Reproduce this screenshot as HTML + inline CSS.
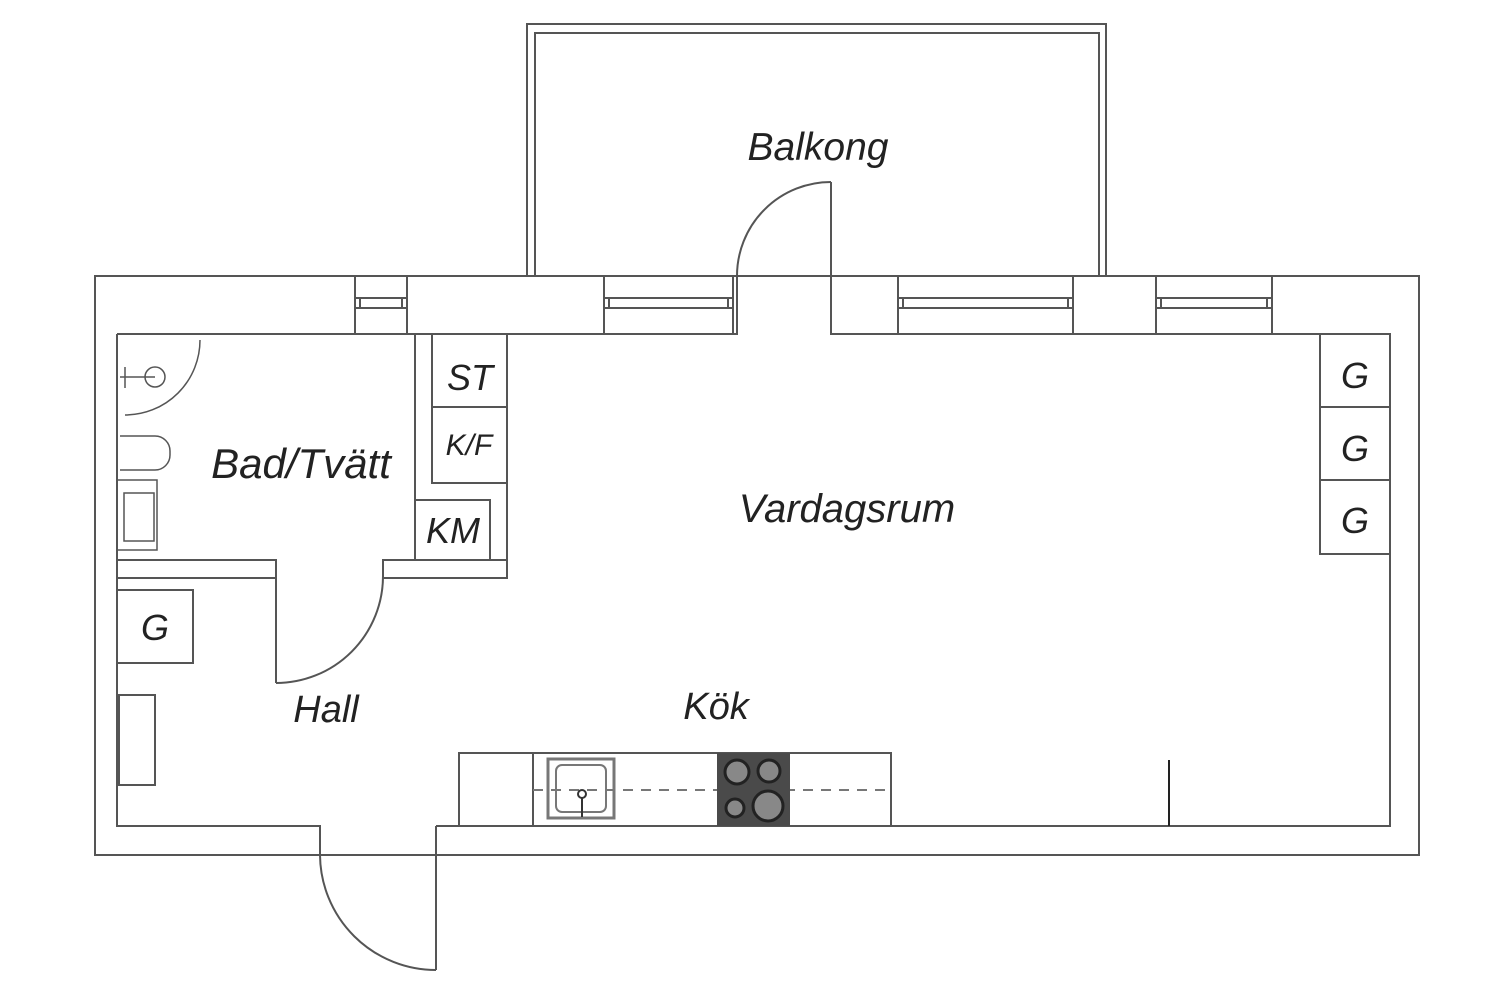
<!DOCTYPE html>
<html><head><meta charset="utf-8"><style>
html,body{margin:0;padding:0;background:#fff;}
svg{display:block}
text{font-family:"Liberation Sans",sans-serif;font-style:italic;fill:#222;}
</style></head><body>
<svg width="1500" height="1008" viewBox="0 0 1500 1008" xmlns="http://www.w3.org/2000/svg">
<g fill="none" stroke="#555" stroke-width="2">
<path d="M527 276 V24 H1106 V276"/>
<path d="M535 276 V33 H1099 V276"/>
<path d="M95 276 H1419 V855 H95 Z"/>
<path d="M117 334 H737 V276"/>
<path d="M831 276 V334 H1390 V826 H436"/>
<path d="M117 334 V826 H320 V855"/>
<path d="M436 826 V970"/>
<path d="M831 276 V182"/>
<path d="M831 182 A94 94 0 0 0 737 276"/>
<path d="M320 855 A116 116 0 0 0 436 970"/>
<g>
<path d="M355 276 V334 M407 276 V334 M355 298 H407 M355 308 H407 M360 298 V308 M402 298 V308"/>
<path d="M604 276 V334 M733 276 V334 M604 298 H733 M604 308 H733 M609 298 V308 M728 298 V308"/>
<path d="M898 276 V334 M1073 276 V334 M898 298 H1073 M898 308 H1073 M903 298 V308 M1068 298 V308"/>
<path d="M1156 276 V334 M1272 276 V334 M1156 298 H1272 M1156 308 H1272 M1161 298 V308 M1267 298 V308"/>
</g>
<path d="M117 560 H276 V683"/>
<path d="M117 578 H276"/>
<path d="M276 683 A107 107 0 0 0 383 576"/>
<path d="M383 578 V560 H507 V334"/>
<path d="M383 578 H507 V560"/>
<path d="M415 334 V560"/>
<path d="M432 334 V483 H507"/>
<path d="M432 407 H507"/>
<path d="M415 500 H490 V560"/>
<path d="M200 340 A75 75 0 0 1 125 415" stroke-width="1.5"/>
<circle cx="155" cy="377" r="10" stroke-width="1.5"/>
<path d="M120 377 H155 M125 367 V388" stroke-width="1.5"/>
<path d="M120 436 H155 A15 15 0 0 1 170 451 V455 A15 15 0 0 1 155 470 H120" stroke-width="1.5"/>
<rect x="117" y="480" width="40" height="70" stroke-width="1.5"/>
<rect x="124" y="493" width="30" height="48" stroke-width="1.5"/>
<rect x="117" y="590" width="76" height="73"/>
<rect x="119" y="695" width="36" height="90"/>
<path d="M1390 334 H1320 V554 H1390 M1320 407 H1390 M1320 480 H1390"/>
<rect x="459" y="753" width="432" height="73"/>
<path d="M533 753 V826"/>
<rect x="548" y="759" width="66" height="59" stroke-width="3" stroke="#777"/>
<rect x="556" y="765" width="50" height="47" rx="6" stroke="#777"/>
<path d="M533 790 H891" stroke-dasharray="10 8" stroke="#777"/>
<path d="M1169 760 V826" stroke="#222"/>
</g>
<circle cx="582" cy="794" r="4" fill="none" stroke="#333" stroke-width="2"/>
<path d="M582 798 V817" stroke="#333" stroke-width="2"/>
<rect x="717" y="753" width="73" height="73" fill="#4a4a4a"/>
<circle cx="737" cy="772" r="12" fill="#888" stroke="#222" stroke-width="3"/>
<circle cx="769" cy="771" r="11" fill="#888" stroke="#222" stroke-width="3"/>
<circle cx="735" cy="808" r="9" fill="#888" stroke="#222" stroke-width="3"/>
<circle cx="768" cy="806" r="15" fill="#888" stroke="#222" stroke-width="3"/>
<text x="818" y="160" font-size="39" text-anchor="middle">Balkong</text>
<text x="301" y="478" font-size="42" text-anchor="middle">Bad/Tvätt</text>
<text x="847" y="522" font-size="40" text-anchor="middle">Vardagsrum</text>
<text x="326" y="722" font-size="38" text-anchor="middle">Hall</text>
<text x="716" y="719" font-size="38" text-anchor="middle">Kök</text>
<text x="470" y="390" font-size="36" text-anchor="middle">ST</text>
<text x="469" y="455" font-size="30" text-anchor="middle">K/F</text>
<text x="453" y="543" font-size="36" text-anchor="middle">KM</text>
<text x="155" y="640" font-size="36" text-anchor="middle">G</text>
<text x="1355" y="388" font-size="36" text-anchor="middle">G</text>
<text x="1355" y="461" font-size="36" text-anchor="middle">G</text>
<text x="1355" y="533" font-size="36" text-anchor="middle">G</text>
</svg>
</body></html>
